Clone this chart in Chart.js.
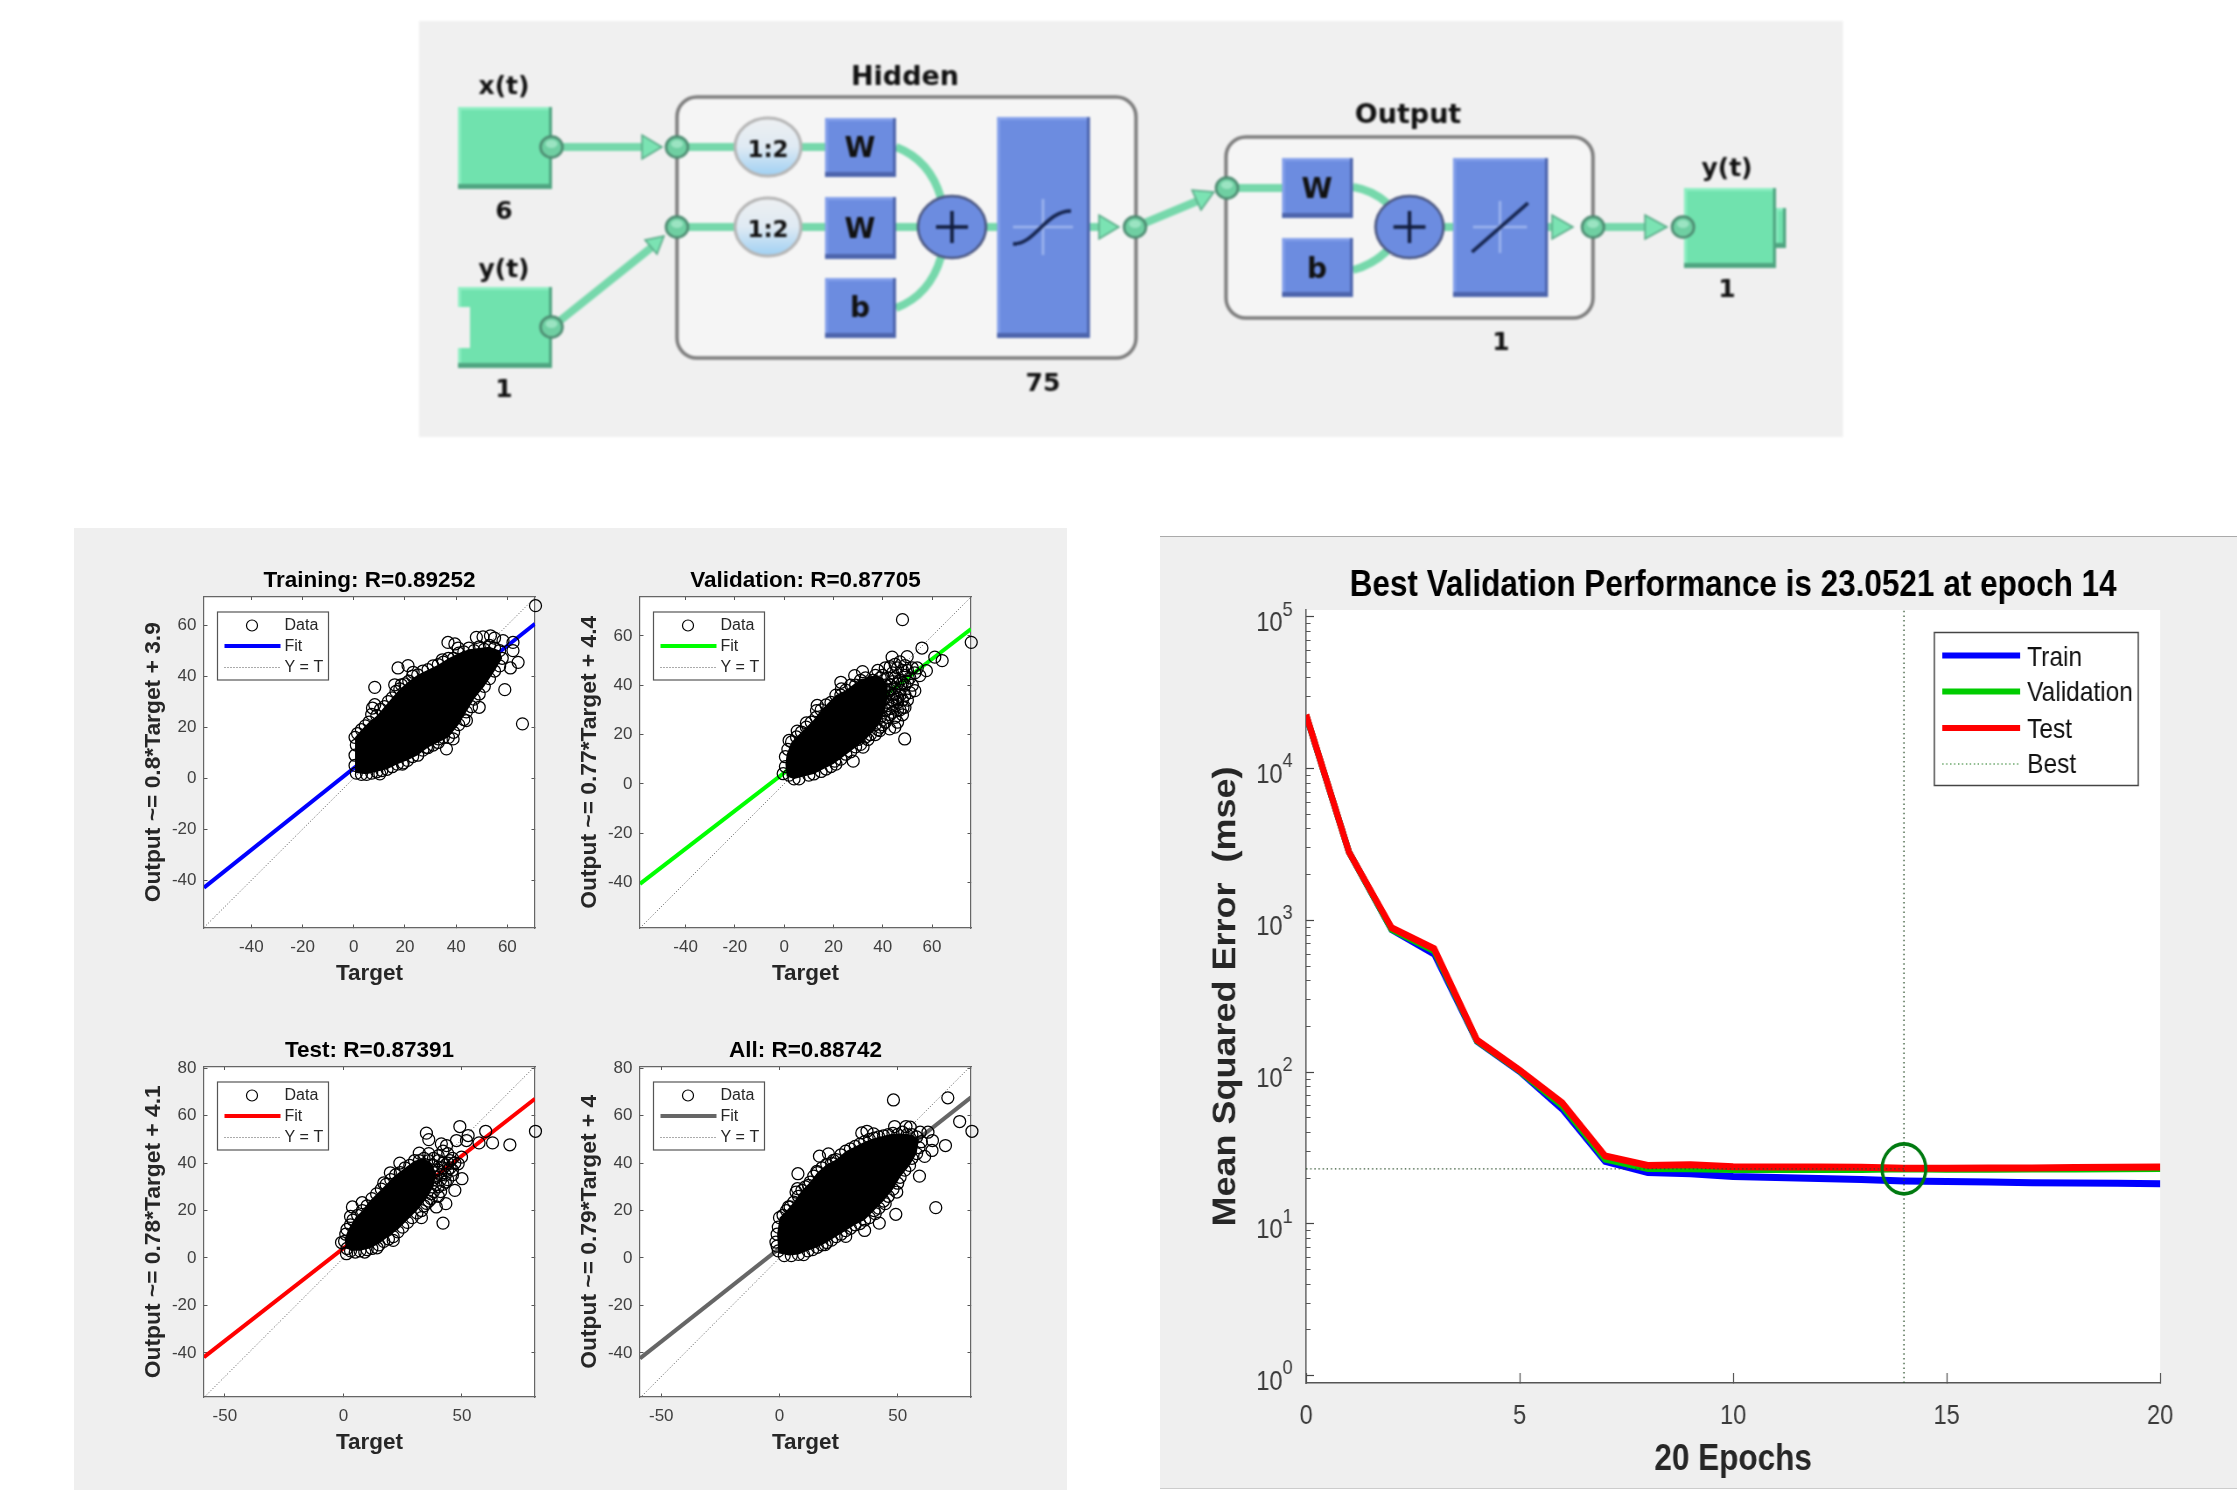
<!DOCTYPE html>
<html lang="en">
<head>
<meta charset="UTF-8">
<title>NARX network, regression and performance</title>
<script src="https://cdn.jsdelivr.net/npm/chart.js"></script>
<style>
  html, body { margin: 0; background: #fff; overflow: hidden; }
  body { width: 2237px; height: 1490px; position: relative; }
  .panel { position: absolute; background: #efefef; }
  canvas { position: absolute; }
  #diagram { position: absolute; left: 419px; top: 21px; filter: blur(0.9px); }
</style>
</head>
<body>
<div class="panel" style="left:74px;top:528px;width:993px;height:962px"></div>
<div class="panel" style="left:1160px;top:536px;width:1077px;height:951px;border-top:1px solid #aaa;border-bottom:1px solid #ccc"></div>
<div id="diagram"></div>

<script>
// regression panels: dense centre of each cloud, then the circles read around and outside it
const trainCore = [[0.5,2],[0.5,16],[3,19],[6,22],[9,24.5],[12,28],[15,31.5],[18,35],[21.5,38],[25,40.5],[29,42.5],[33,44.5],[37,47],[41,49],[45,50.5],[49,51],[53,51.5],[57,50],[58,47],[55,42],[51,36],[47,31],[44,26],[41,21],[37,16],[33,14],[29,12],[25,9],[21,7],[17,5.5],[13,3.5],[9,2.5],[5,1.5]];
const trainCircles = [[71,67.6],[65.9,21.3],[64.2,45.4],[59,34.7],[62.2,50],[61.2,43.2],[47.9,55.2],[53.4,55.8],[50.5,55.4],[36.8,53.2],[39.5,52.6],[40.8,51],[21.2,44.1],[17.3,43.2],[23.2,41.5],[8.2,35.6],[16,36.6],[18.6,36.6],[7.3,27.5],[8.2,28.8],[36.2,11.5],[44,22.6],[49,27.8],[19.3,6],[10.2,1.7],[34.6,46.4],[58.3,53.9],[62.2,53.2],[55,54.9],[38.8,15.4],[33,15.4],[28.4,12.1],
  [0.5,16],[1,13],[1.5,17.5],[3,19],[4.5,20.5],[6,22],[7,25],[9,24.5],[10.5,27],[12,28],[13.5,30],[15,31.5],[16.5,34],[18,35],[20,37],[21.5,38],[23,40],[25,40.5],[27,42],[29,42.5],[31,44],[33,44.5],[35,45.5],[37,47],[39,47],[41,49],[43,49.5],[45,51],[47,50],[49,51.5],[51,50.5],[53,52],[55,51],[57,50],
  [58,47],[57,44],[55,42],[53,39],[51,36],[49,33],[47,31],[46,28],[44,26],[43,23],[41,21],[39,18],[37,16],[35,16],[33,14],[31,13],[29,12],[27,11],[25,9],[23,8.5],[21,7],[19,5.5],[17,5.5],[15,4.5],[13,3.5],[11,3],[9,2.5],[7,2],[5,1.5],[3,1.5],[1,2],[0.5,5],[0.5,9]];
const trainFit = [[-58.5,-42.9],[70.8,60.5]];
const trainIdentity = [[-58.5,-58.5],[70.8,70.8]];
const trainTicksX = [-40,-20,0,20,40,60];
const trainTicksY = [-40,-20,0,20,40,60];

const validCore = [[1,3],[0.5,8],[1,12],[3,17],[6,20],[9,23],[12,26],[15,30],[18,33],[21,36],[25,38],[29,41],[33,43],[37,44],[40,43],[42,40],[42,36],[41,30],[39,25],[36,21],[32,17],[28,14],[24,11],[20,8],[16,6],[12,4],[8,3],[4,2]];
const validCircles = [[75.9,57.4],[48,66.6],[55.9,55.1],[61.1,51.4],[64.1,50],[57.7,45.9],[48.9,18.2],[28,9.2],[-0.4,4.1],[49.9,51.6],[43.8,51.4],[23,41.2],[23.2,38.5],[31.8,45.5],[28.6,43.9],[13.4,31.8],[13.1,29.7],[9,24.7],[5.3,21.4],[2,17.6],[42.8,22.3],[44.9,23],[48.2,31],[53,37.8],[32,14.9],[38.8,21.6],[20.5,9.2],[55,43.9],
  [40,44],[42,43],[44,45],[46,47],[48,46],[45,43],[47,42],[49,44],[50,46],[52,47],[51,43],[53,45],[54,47],[41,40],[43,40],[45,39],[47,38],[49,40],[51,37],[50,34],[48,34],[46,35],[44,36],[42,37],[40,36],[42,33],[44,32],[46,30],[48,28],[45,27],[43,28],[41,30],[39,27],[41,25],[39,23],[37,24],[35,26],[33,19],[35,20],[37,20],[31,16],[29,15],[27,13],[25,12],[23,10],[21,8],[19,7],[17,6],[15,5],[12,4],[10,3.5],[6,2],[4,2],[2,3.5],[0.5,7],[0.5,11],[1.5,14],[3,17],[5,19],[7,21],[9,23],[11,25],[13,27],[15,30],[17,32],[19,33],[21,36],[23,36],[25,38],[27,40],[29,40],[31,42],[33,43],[35,41],[37,44],[39,43],[36,42],[34,38],[32,40],
  [38,46],[41,47],[43,47.5],[45,48.5],[47,49.5],[49,48],[44,41.5],[46,40.5],[48,41],[50,41.5],[52,40],[43,38],[45,36.5],[47,36],[49,36],[44,34],[46,33],[43,30.5],[44,29],[42,27],[40,24],[38,22],[34,18],[30,18],[46,25],[47,30],[49,31],[41,35]];
const validFit = [[-58.5,-40.6],[75.8,62.8]];
const validIdentity = [[-58.5,-58.5],[75.8,75.8]];
const validTicksX = [-40,-20,0,20,40,60];
const validTicksY = [-40,-20,0,20,40,60];

const testCore = [[1,4],[0.5,8],[2,12],[5,17],[8,20],[11,24],[14,27],[18,31],[22,35],[26,38],[30,41],[34,42],[37,40],[39,36],[38,30],[35,25],[31,20],[27,16],[23,12],[19,9],[15,6],[11,4],[7,3],[4,3]];
const testCircles = [[81,53.4],[70.2,47.7],[62.9,48.5],[60,53.4],[57.2,48.5],[49.1,55.4],[52.6,51.6],[51.9,49.5],[47.7,49.5],[35,52.6],[36,49.9],[42,14.7],[47,28.5],[50,33.4],[43.2,22.9],[39.2,21.5],[32.9,17],[23.8,40],[19.8,35.9],[17,31.6],[7.9,23.3],[3.8,21.5],[3,17.5],[-0.8,6.5],[1.3,1.8],[21,7.4],[14.2,4.3],[9,2.5],[32,44.2],[49.8,42.5],[48.4,39.7],[43.5,47.4],[41.3,48.1],
  [0.5,7],[1,10],[1.5,12],[3,14],[4,16],[6,18],[8,20],[10,22],[12,25],[14,27],[16,29],[18,31],[20,33],[22,35],[24,36],[26,38],[28,39],[30,41],[32,41],[34,42],[36,41],[38,39],[40,37],[38,36],[39,34],[41,33],[43,35],[42,40],[44,44],[45,41],[47,40],[44,37],[46,37],[40,30],[38,28],[40,26],[37,25],[35,23],[33,20],[31,19],[29,17],[27,15],[25,13],[23,11],[21,9],[19,8],[17,7],[15,5.5],[12,4],[10,3.5],[7,3],[5,2.5],[3,3],[1.5,4],[38,42],[36,44],[40,43],[42,45],
  [40,41],[42,38],[44,40],[46,42],[41,35],[43,32],[41,28],[42,31],[44,33],[46,35],[45,38],[38,33],[39,31],[37,27],[36,24],[34,22]];
const testFit = [[-58.8,-41.8],[80.8,67.1]];
const testIdentity = [[-58.8,-58.8],[80.8,80.8]];
const testTicksX = [-50,0,50];
const testTicksY = [-40,-20,0,20,40,60,80];

const allCore = [[-0.5,2],[-1,10],[0,17],[3,20],[6,23.5],[9.5,28.5],[13,32],[16,36],[20,39.5],[24,41.5],[28,45],[32,47],[36,49],[40,50.5],[44,51.5],[48,52.5],[52,52.5],[56,52],[59,50],[58,44],[55,39],[51,34],[48,29],[44,24],[40,20],[36,16],[32,14],[28,11.5],[24,9],[20,6.5],[16,4.5],[12,3],[8,1.5],[4,1]];
const allCircles = [[81.4,53.4],[71.2,67.5],[76.2,57.5],[70.2,47.4],[66.1,21.2],[48.2,66.6],[49.2,18.4],[59.2,34.5],[42.2,14.7],[36,11.6],[28,9.1],[19.3,5.6],[10.2,1.4],[7.8,35.5],[7,27.8],[7.6,29.2],[16.9,42.9],[20.7,43.9],[22.8,41.1],[34.8,52.7],[37,53.4],[39.8,52.3],[48.7,55.4],[53.5,55.4],[55.3,55.1],[59.5,53],[64.7,49.5],[64.5,45.3],[61.4,42.8],[62.8,53],[15.8,36.5],[12.3,30.6],[3.8,21.5],[44.7,22.9],[40.5,18.7],[49.6,27.8],[-1.5,6.7],
  [0,17],[1.5,18],[3,20],[4.5,21.5],[6,23.5],[8,26],[9.5,28.5],[11,30],[13,32],[14.5,34.5],[16,36],[18,38],[20,39.5],[22,40],[24,41.5],[26,43.5],[28,45],[30,46],[32,47],[34,48],[36,49],[38,50],[40,50.5],[42,51],[44,51.5],[46,52],[48,52.5],[50,52],[52,53],[54,52],[56,52],[58,51],[60,49],[59,46.5],[58,44],[56,42],[55,39],[53,37],[51,34],[50,31.5],[48,29],[46,26],[44,24],[42,21],[40,20],[38,17],[36,16],[34,14.5],[32,14],[30,12.5],[28,11.5],[26,10],[24,9],[22,7.5],[20,6.5],[18,5.5],[16,4.5],[14,3.5],[12,3],[8,1.5],[5,1],[2,1],[-0.5,3],[-1,5],[-1,10],[-0.5,13]];
const allFit = [[-59,-42.3],[81,67.7]];
const allIdentity = [[-59,-59],[81,81]];
const allTicksX = [-50,0,50];
const allTicksY = [-40,-20,0,20,40,60,80];

// performance plot
const epochs = [0,1,2,3,4,5,6,7,8,9,10,11,12,13,14,15,16,17,18,19,20];
const trainMse = [22400,2830,870,600,160,101,57,25.8,21.8,21.4,20.5,20.2,19.9,19.6,19.2,19,18.9,18.7,18.6,18.5,18.4];
const validMse = [22500,2830,875,630,161,102,60,26.8,23.2,23.1,22.8,22.8,22.8,22.8,23.05,22.9,22.9,23,23,23.1,23.2];
const testMse = [22650,2830,895,650,163,103,62.6,28.1,24.3,24.5,23.8,23.7,23.7,23.6,23.3,23.3,23.4,23.4,23.5,23.6,23.7];
const bestEpoch = 14;
const bestPerf = 23.0521;
const perfTicksX = [0,5,10,15,20];
const perfMajorTicks = [1,10,100,1000,10000,100000];
const perfMinorTicks = [2,3,4,5,6,7,8,9,20,30,40,50,60,70,80,90,200,300,400,500,600,700,800,900,2000,3000,4000,5000,6000,7000,8000,9000,20000,30000,40000,50000,60000,70000,80000,90000];
const perfExponents = ['0','1','2','3','4','5'];
const perfLegend = ['Train','Validation','Test','Best'];

const toXY = pts => pts.map(p => ({ x: p[0], y: p[1] }));
const sansFont = 'Liberation Sans, Arial, sans-serif';

const whiteArea = {
  id: 'whiteArea',
  beforeDraw(chart) {
    const a = chart.chartArea;
    chart.ctx.fillStyle = '#fff';
    chart.ctx.fillRect(a.left, a.top, a.width, a.height);
  }
};

function addCanvas(left, top, width, height) {
  const c = document.createElement('canvas');
  c.width = width; c.height = height;
  c.style.left = left + 'px'; c.style.top = top + 'px';
  document.body.appendChild(c);
  return c;
}

// pins a scale to a fixed thickness so every plot box lands where it should
const fixedSize = (prop, size) => s => {
  s[prop] = size;
  s.paddingLeft = s.paddingRight = s.paddingTop = s.paddingBottom = 0;
};

function regressionLegend(fitColor) {
  return {
    id: 'regressionLegend',
    afterDatasetsDraw(chart) {
      const ctx = chart.ctx, x = chart.chartArea.left + 13.5, y = chart.chartArea.top + 15.5;
      ctx.save();
      ctx.fillStyle = '#fff'; ctx.fillRect(x, y, 111, 68);
      ctx.strokeStyle = '#555'; ctx.lineWidth = 1.2; ctx.strokeRect(x, y, 111, 68);
      ctx.strokeStyle = '#000'; ctx.beginPath(); ctx.arc(x + 34.5, y + 13.5, 5.5, 0, Math.PI * 2); ctx.stroke();
      ctx.strokeStyle = fitColor; ctx.lineWidth = 3.8; ctx.beginPath(); ctx.moveTo(x + 7, y + 34); ctx.lineTo(x + 63, y + 34); ctx.stroke();
      ctx.strokeStyle = '#555'; ctx.lineWidth = 1; ctx.setLineDash([1, 2]); ctx.beginPath(); ctx.moveTo(x + 7, y + 55.5); ctx.lineTo(x + 63, y + 55.5); ctx.stroke();
      ctx.fillStyle = '#262626'; ctx.font = '16px ' + sansFont; ctx.textBaseline = 'middle';
      ctx.fillText('Data', x + 67, y + 14);
      ctx.fillText('Fit', x + 67, y + 35);
      ctx.fillText('Y = T', x + 67, y + 56);
      ctx.restore();
    }
  };
}

function regressionChart(o) {
  const canvas = addCanvas(o.left - 70, o.top - 26, 70 + o.width + 20, 26 + o.height + 72);
  const tickAxis = (ticks, range, extra) => Object.assign({
    type: 'linear', min: range[0], max: range[1],
    afterBuildTicks: s => { s.ticks = ticks.map(v => ({ value: v })); },
    border: { color: '#666', width: 1.2 },
    grid: { drawOnChartArea: false, tickLength: -3.5, color: '#555', tickWidth: 1 }
  }, extra);
  const tickFont = { size: 17, family: sansFont, lineHeight: 1 };
  const axisTitle = (text, size, padding) => ({ display: true, text, color: '#262626', padding, font: { size, weight: 'bold', family: sansFont, lineHeight: 1 } });
  new Chart(canvas, {
    type: 'scatter',
    data: {
      datasets: [
        { data: toXY(o.circles), pointRadius: 6, pointBorderColor: '#000', pointBorderWidth: 1.25, pointBackgroundColor: 'rgba(0,0,0,0)', clip: false },
        { data: toXY(o.core), showLine: true, fill: 'shape', borderWidth: 0, backgroundColor: '#000', pointRadius: 0 },
        { data: toXY(o.fit), showLine: true, borderColor: o.color, borderWidth: 4, pointRadius: 0 },
        { data: toXY(o.identity), showLine: true, borderColor: '#555', borderWidth: 1, borderDash: [1, 2], pointRadius: 0 }
      ]
    },
    options: {
      responsive: false, animation: false,
      layout: { padding: { right: 20 } },
      plugins: {
        legend: { display: false }, tooltip: { enabled: false },
        title: { display: true, text: o.title, color: '#000', fullSize: false, padding: { top: 0, bottom: 4 }, font: { size: 22.5, weight: 'bold', family: sansFont, lineHeight: 1 } }
      },
      scales: {
        x: tickAxis(o.ticksX, o.xRange, {
          position: 'bottom', afterFit: fixedSize('height', 72),
          ticks: { autoSkip: false, maxRotation: 0, padding: 14, color: '#404040', font: tickFont, callback: v => v },
          title: axisTitle('Target', 22.5, { top: 0, bottom: 15 })
        }),
        y: tickAxis(o.ticksY, o.yRange, {
          position: 'left', afterFit: fixedSize('width', 70),
          ticks: { autoSkip: false, padding: 11, color: '#404040', font: tickFont, callback: v => v },
          title: axisTitle(o.yTitle, 22.8, { top: 8, bottom: 0 })
        }),
        x2: tickAxis(o.ticksX, o.xRange, { position: 'top', afterFit: fixedSize('height', 0), ticks: { display: false } }),
        y2: tickAxis(o.ticksY, o.yRange, { position: 'right', afterFit: fixedSize('width', 0), ticks: { display: false } })
      }
    },
    plugins: [whiteArea, regressionLegend(o.color)]
  });
}

regressionChart({ left: 204, top: 596, width: 331, height: 332, title: 'Training: R=0.89252', yTitle: 'Output ~= 0.8*Target + 3.9', color: '#0000ff',
  core: trainCore, circles: trainCircles, fit: trainFit, identity: trainIdentity, ticksX: trainTicksX, ticksY: trainTicksY, xRange: [-58.5, 70.8], yRange: [-58.7, 71.2] });
regressionChart({ left: 640, top: 596, width: 331, height: 332, title: 'Validation: R=0.87705', yTitle: 'Output ~= 0.77*Target + 4.4', color: '#00ff00',
  core: validCore, circles: validCircles, fit: validFit, identity: validIdentity, ticksX: validTicksX, ticksY: validTicksY, xRange: [-58.5, 75.8], yRange: [-58.5, 76] });
regressionChart({ left: 204, top: 1066, width: 331, height: 331, title: 'Test: R=0.87391', yTitle: 'Output ~= 0.78*Target + 4.1', color: '#ff0000',
  core: testCore, circles: testCircles, fit: testFit, identity: testIdentity, ticksX: testTicksX, ticksY: testTicksY, xRange: [-58.8, 80.8], yRange: [-58.6, 80.7] });
regressionChart({ left: 640, top: 1066, width: 331, height: 331, title: 'All: R=0.88742', yTitle: 'Output ~= 0.79*Target + 4', color: '#666666',
  core: allCore, circles: allCircles, fit: allFit, identity: allIdentity, ticksX: allTicksX, ticksY: allTicksY, xRange: [-59, 81], yRange: [-58.6, 80.7] });

const perfExtras = {
  id: 'perfExtras',
  afterDraw(chart) {
    const ctx = chart.ctx, yAxis = chart.scales.y, x0 = chart.chartArea.left;
    ctx.save();
    ctx.fillStyle = '#3a3a3a'; ctx.textBaseline = 'middle'; ctx.textAlign = 'left';
    perfMajorTicks.forEach((v, i) => {
      const py = yAxis.getPixelForValue(v);
      ctx.font = '27px ' + sansFont; ctx.fillText('10', x0 - 57, py + 7);
      ctx.font = '21px ' + sansFont; ctx.fillText(perfExponents[i], x0 - 27, py - 7);
    });
    // legend box
    const lx = x0 + 718, ly = chart.chartArea.top + 22.5;
    ctx.fillStyle = '#fff'; ctx.fillRect(lx, ly, 233, 153);
    ctx.strokeStyle = '#444'; ctx.lineWidth = 1.5; ctx.strokeRect(lx, ly, 233, 153);
    const rows = [23, 59, 95.5, 131.5], textRows = [25.5, 60.5, 97.5, 132.5], colors = ['#0000ff', '#00cc00', '#ff0000'];
    perfLegend.forEach((name, i) => {
      ctx.beginPath(); ctx.moveTo(lx + 9, ly + rows[i]); ctx.lineTo(lx + 98, ly + rows[i]);
      if (i < 3) { ctx.strokeStyle = colors[i]; ctx.lineWidth = 6; ctx.setLineDash([]); }
      else { ctx.strokeStyle = '#0a6e0a'; ctx.lineWidth = 1.2; ctx.setLineDash([1.5, 3]); }
      ctx.stroke();
      ctx.fillStyle = '#111'; ctx.font = '28px ' + sansFont;
      ctx.fillText(name, lx + 106, ly + textRows[i]);
    });
    ctx.restore();
  }
};

const perfLine = (values, color) => ({ data: epochs.map((e, i) => ({ x: e, y: values[i] })), showLine: true, borderColor: color, borderWidth: 7, pointRadius: 0, borderJoinStyle: 'miter' });
const bestLine = pts => ({ data: toXY(pts), showLine: true, borderColor: '#2b4f2b', borderWidth: 1.4, borderDash: [1.5, 3.2], pointRadius: 0 });

// the source picture is squeezed sideways, so this canvas is drawn wide and squeezed to 87.5%
const perfCanvas = addCanvas(1160, 568, 1231, 922);
perfCanvas.style.transformOrigin = '0 0';
perfCanvas.style.transform = 'scaleX(0.875)';

new Chart(perfCanvas, {
  type: 'scatter',
  data: {
    datasets: [
      { data: [{ x: bestEpoch, y: bestPerf }], pointRadius: 25, pointBorderColor: '#007a10', pointBorderWidth: 3.6, pointBackgroundColor: 'rgba(0,0,0,0)' },
      bestLine([[0, bestPerf], [bestEpoch, bestPerf]]),
      bestLine([[bestEpoch, 0.895], [bestEpoch, 110900]]),
      perfLine(testMse, '#ff0000'),
      perfLine(validMse, '#00c800'),
      perfLine(trainMse, '#0000ff')
    ]
  },
  options: {
    responsive: false, animation: false,
    layout: { padding: { right: 88 } },
    plugins: {
      legend: { display: false }, tooltip: { enabled: false },
      title: { display: true, text: 'Best Validation Performance is 23.0521 at epoch 14', color: '#000', fullSize: false, padding: { top: 0, bottom: 6 }, font: { size: 36, weight: 'bold', family: sansFont, lineHeight: 1 } }
    },
    scales: {
      x: {
        type: 'linear', min: 0, max: 20, position: 'bottom', afterFit: fixedSize('height', 107),
        afterBuildTicks: s => { s.ticks = perfTicksX.map(v => ({ value: v })); },
        border: { color: '#555', width: 1.5 },
        grid: { drawOnChartArea: false, tickLength: -10, color: '#444', tickWidth: 1.2 },
        ticks: { autoSkip: false, maxRotation: 0, padding: 30, color: '#3a3a3a', font: { size: 27, family: sansFont, lineHeight: 1 }, callback: v => v },
        title: { display: true, text: '20 Epochs', color: '#262626', padding: { top: 0, bottom: 12 }, font: { size: 36, weight: 'bold', family: sansFont, lineHeight: 1 } }
      },
      y: {
        type: 'logarithmic', min: 0.895, max: 110900, position: 'left', weight: 1, afterFit: fixedSize('width', 167),
        afterBuildTicks: s => { s.ticks = perfMajorTicks.map(v => ({ value: v })); },
        border: { color: '#555', width: 1.5 },
        grid: { drawOnChartArea: false, tickLength: -9, color: '#444', tickWidth: 1.2 },
        ticks: { display: false },
        title: { display: true, text: 'Mean Squared Error  (mse)', color: '#262626', padding: { top: 58, bottom: 0 }, font: { size: 36, weight: 'bold', family: sansFont, lineHeight: 1 } }
      },
      yMinor: {
        type: 'logarithmic', min: 0.895, max: 110900, position: 'left', weight: 0, afterFit: fixedSize('width', 0),
        afterBuildTicks: s => { s.ticks = perfMinorTicks.map(v => ({ value: v })); },
        border: { display: false },
        grid: { drawOnChartArea: false, tickLength: -5, color: '#555', tickWidth: 1 },
        ticks: { display: false }
      }
    }
  },
  plugins: [whiteArea, perfExtras]
});

// network diagram at the top
function block(x, y, w, h, base, dark, light) {
  return `<rect x="${x}" y="${y}" width="${w}" height="${h}" fill="${base}"/>` +
    `<rect x="${x}" y="${y}" width="${w}" height="3" fill="${light}"/>` +
    `<rect x="${x}" y="${y}" width="3" height="${h}" fill="${light}"/>` +
    `<rect x="${x + w - 3}" y="${y}" width="3" height="${h}" fill="${dark}"/>` +
    `<rect x="${x}" y="${y + h - 5}" width="${w}" height="5" fill="${dark}"/>`;
}
const blueBlock = (x, y, w, h) => block(x, y, w, h, '#6c8ce0', '#4d65ad', '#84a0ea');
const greenBlock = (x, y, w, h) => block(x, y, w, h, '#70e2ae', '#4fa581', '#8deec2');
const wire = d => `<path d="${d}" fill="none" stroke="#76d8ab" stroke-width="8"/>`;
const head = pts => `<polygon points="${pts}" fill="#7be3b3" stroke="#57a885" stroke-width="1.5"/>`;
const node = (x, y) => `<ellipse cx="${x}" cy="${y}" rx="11" ry="10.5" fill="#6fcfa2" stroke="#4c8a70" stroke-width="2.5"/><ellipse cx="${x}" cy="${y - 3}" rx="6" ry="4" fill="#9be4c2"/>`;
const label = (x, y, t, size) => `<text x="${x}" y="${y}" font-size="${size || 25}" text-anchor="middle" dominant-baseline="central" font-weight="bold" font-family="DejaVu Sans" fill="#111">${t}</text>`;
const delay = (x, y) => `<ellipse cx="${x}" cy="${y}" rx="33" ry="29" fill="url(#delayFill)" stroke="#b5b5b5" stroke-width="3"/>` + label(x, y + 2, '1:2', 23);
const sum = (x, y) => `<ellipse cx="${x}" cy="${y}" rx="34" ry="31" fill="#6c8ce0" stroke="#49557f" stroke-width="2.5"/><path d="M${x - 16} ${y}H${x + 16}M${x} ${y - 16}V${y + 16}" stroke="#111c3c" stroke-width="3.5"/>`;
const cross = (x, y, w, h) => `<path d="M${x - w} ${y}H${x + w}M${x} ${y - h}V${y + h}" stroke="#9db4ee" stroke-width="2.5"/>`;
const ibox = (x, y, w, h) => `<rect x="${x}" y="${y}" width="${w}" height="${h}" rx="20" fill="#f5f5f5" stroke="#7d7d7d" stroke-width="3.5"/>`;

const ox = -419, oy = -21;
document.getElementById('diagram').innerHTML = `<svg width="1424" height="416" xmlns="http://www.w3.org/2000/svg">
  <defs><linearGradient id="delayFill" x1="0" y1="0" x2="0" y2="1"><stop offset="0" stop-color="#eef0f2"/><stop offset="0.5" stop-color="#dfeaf3"/><stop offset="1" stop-color="#9fd0f3"/></linearGradient></defs>
  <rect width="1424" height="416" fill="#f0f0f0"/>
  <g transform="translate(${ox} ${oy})">
    ${ibox(677, 97, 459, 261)}${ibox(1226, 137, 367, 181)}
    ${greenBlock(458, 107, 94, 82)}
    ${greenBlock(458, 287, 94, 81)}<rect x="458" y="307" width="12" height="41" fill="#f0f0f0"/>
    ${greenBlock(1775, 208, 11, 40)}${greenBlock(1684, 188, 92, 80)}
    ${wire('M552 147H645')}${head('642,135 642,159 662,147')}
    ${wire('M552 327L652 247')}${head('664,236 645,240 657,254')}
    ${wire('M677 147H825M677 227H825M896 227H920M985 227H998')}
    ${wire('M896 147Q930 160 941 198M896 308Q930 295 941 257')}
    ${wire('M1090 227H1103')}${head('1099,215 1099,239 1119,227')}
    ${wire('M1135 227L1200 200')}${head('1214,192 1192,190 1201,210')}
    ${wire('M1227 188H1282M1353 187Q1372 190 1387 203M1353 270Q1372 265 1387 251M1443 227H1454')}
    ${wire('M1548 227H1556')}${head('1552,215 1552,239 1573,227')}
    ${wire('M1593 227H1650')}${head('1645,215 1645,239 1667,227')}
    ${node(551.5, 147)}${node(551.5, 327)}${node(677, 147)}${node(677, 227)}${node(1135, 227)}${node(1227, 188)}${node(1593, 227)}${node(1683, 227)}
    ${delay(768, 147)}${delay(768, 227)}
    ${blueBlock(825, 118, 71, 59)}${blueBlock(825, 197, 71, 62)}${blueBlock(825, 278, 71, 60)}
    ${blueBlock(997, 117, 93, 221)}
    ${sum(952, 227)}
    ${cross(1043, 227, 30, 28)}<path d="M1013 244C1036 244 1045 211 1071 211" fill="none" stroke="#15244e" stroke-width="3.5"/>
    ${blueBlock(1282, 158, 71, 60)}${blueBlock(1282, 238, 71, 59)}
    ${blueBlock(1453, 158, 95, 139)}
    ${sum(1409.5, 227)}
    ${cross(1500, 227, 27, 26)}<path d="M1472 252L1528 203" stroke="#15244e" stroke-width="3.5"/>
    ${label(860, 147, 'W', 28)}${label(860, 228, 'W', 28)}${label(860, 307, 'b', 28)}
    ${label(1317, 188, 'W', 28)}${label(1317, 268, 'b', 28)}
    ${label(504, 85, 'x(t)')}${label(504, 210, '6')}${label(504, 268, 'y(t)')}${label(504, 388, '1')}
    ${label(905, 75, 'Hidden', 27)}${label(1043, 382, '75')}
    ${label(1408, 113, 'Output', 27)}${label(1501, 341, '1')}
    ${label(1727, 167, 'y(t)')}${label(1727, 288, '1')}
  </g>
</svg>`;
</script>
</body>
</html>
